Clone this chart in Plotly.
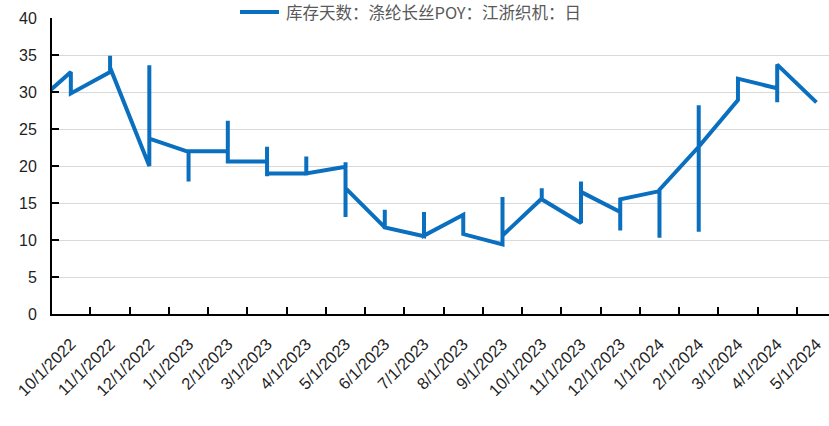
import plotly.graph_objects as go

# Month buckets on the category axis (the first one sits just left of the visible range)
months = [
    "9/1/2022", "10/1/2022", "11/1/2022", "12/1/2022",
    "1/1/2023", "2/1/2023", "3/1/2023", "4/1/2023", "5/1/2023", "6/1/2023",
    "7/1/2023", "8/1/2023", "9/1/2023", "10/1/2023", "11/1/2023", "12/1/2023",
    "1/1/2024", "2/1/2024", "3/1/2024", "4/1/2024", "5/1/2024",
]

# Daily readings (days of inventory), grouped by month in chronological order
days_sep22 = [28.0]
days_oct22 = [32.7, 29.8]
days_nov22 = [32.7, 34.9, 33.3]
days_dec22 = [20.0, 33.6, 23.7]
days_jan23 = [21.9, 17.9, 22.0]
days_feb23 = [22.0, 26.1, 20.6]
days_mar23 = [20.6, 22.6, 18.6, 19.0]
days_apr23 = [19.0, 21.3, 19.0]
days_may23 = [19.9, 20.5, 13.1, 17.0]
days_jun23 = [11.7, 14.1, 11.7]
days_jul23 = [10.5, 13.8, 10.6]
days_aug23 = [13.4, 10.8]
days_sep23 = [9.4, 15.8, 10.6]
days_oct23 = [15.6, 17.0, 15.5]
days_nov23 = [12.3, 17.9, 16.5]
days_dec23 = [13.8, 11.3, 15.5]
days_jan24 = [16.6, 10.3, 16.8]
days_feb24 = [22.6, 28.2, 11.1, 22.6]
days_mar24 = [28.9, 31.8]
days_apr24 = [30.5, 28.6, 33.7]
days_may24 = [28.6]

monthly_days = [
    days_sep22, days_oct22, days_nov22, days_dec22,
    days_jan23, days_feb23, days_mar23, days_apr23, days_may23, days_jun23,
    days_jul23, days_aug23, days_sep23, days_oct23, days_nov23, days_dec23,
    days_jan24, days_feb24, days_mar24, days_apr24, days_may24,
]

y_ticks = [0, 5, 10, 15, 20, 25, 30, 35, 40]
series_name = "库存天数：涤纶长丝POY：江浙织机：日"
line_color = "#0a6fbe"

# Every reading of a month is placed on that month's category
xs, ys = [], []
for month, vals in zip(months, monthly_days):
    xs.extend([month] * len(vals))
    ys.extend(vals)

fig = go.Figure()
fig.add_trace(go.Scatter(
    x=xs, y=ys, mode="lines", name=series_name,
    line=dict(color=line_color, width=4),
    showlegend=False,
))

W, H = 829, 426
M_L, M_R, M_T, M_B = 52, 0, 18, 112
plot_w = W - M_L - M_R
plot_h = H - M_T - M_B


def px_x(px):
    return (px - M_L) / plot_w


def px_y(py):
    return (H - M_B - py) / plot_h


# Legend key drawn above the plot: a short line sample followed by the series name
legend_y = px_y(12)
fig.add_shape(
    type="line", xref="paper", yref="paper",
    x0=px_x(240), x1=px_x(279), y0=legend_y, y1=legend_y,
    line=dict(color=line_color, width=4),
)
fig.add_annotation(
    xref="paper", yref="paper", x=px_x(284), y=legend_y,
    xanchor="left", yanchor="middle", showarrow=False,
    text=series_name,
    font=dict(family="Noto Sans CJK SC", size=16.5, color="#595959"),
)

tick_font = dict(family="Liberation Sans, Arial, sans-serif", color="#1f1f1f")

fig.update_layout(
    width=W, height=H,
    margin=dict(l=M_L, r=M_R, t=M_T, b=M_B),
    paper_bgcolor="white", plot_bgcolor="white",
    showlegend=False,
    xaxis=dict(
        type="category",
        categoryorder="array", categoryarray=months,
        range=[0.52, 20.32],
        tickson="boundaries",
        ticks="inside", ticklen=7, tickwidth=1.5, tickcolor="#000",
        showline=True, linecolor="#000", linewidth=2,
        showgrid=False, zeroline=False,
        tickangle=-45,
        tickfont=dict(size=16.5, **tick_font),
        ticklabelstandoff=12,
    ),
    yaxis=dict(
        range=[0, 40],
        tickmode="array", tickvals=y_ticks,
        ticks="inside", ticklen=7, tickwidth=1.5, tickcolor="#000",
        showline=True, linecolor="#000", linewidth=2,
        showgrid=True, gridcolor="#d9d9d9", gridwidth=1.3,
        zeroline=False,
        tickfont=dict(size=16, **tick_font),
        ticklabelstandoff=10,
    ),
)

fig.write_html("out.html")
